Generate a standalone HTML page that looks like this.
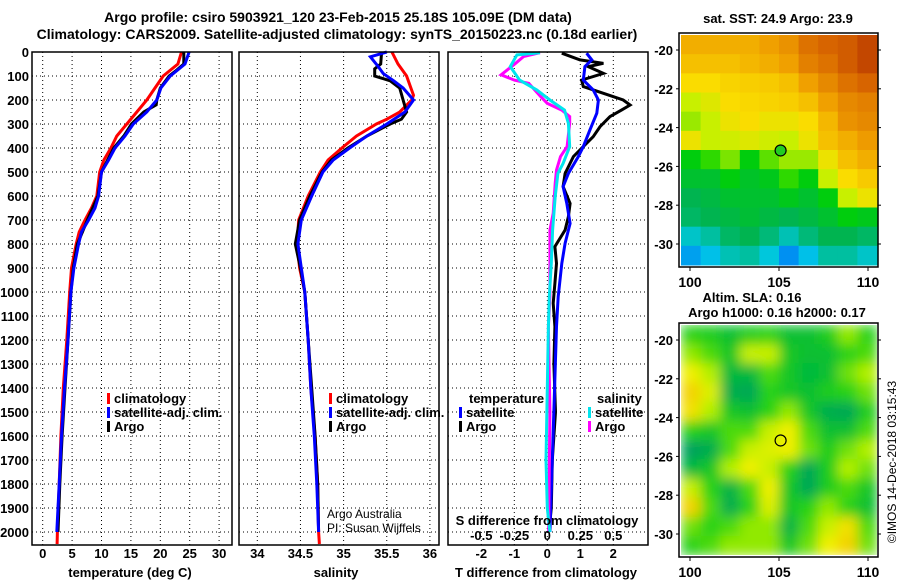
<!DOCTYPE html>
<html><head><meta charset="utf-8"><style>
body{margin:0;background:#fff}
svg text{font-family:"Liberation Sans",sans-serif;font-weight:bold;font-size:13px;fill:#000}
</style></head><body>
<svg id="c" width="900" height="580" viewBox="0 0 900 580" xmlns="http://www.w3.org/2000/svg">
<defs>
<filter id="blur" filterUnits="userSpaceOnUse" x="681" y="325" width="196" height="230"><feGaussianBlur stdDeviation="6" edgeMode="duplicate"/></filter>
<clipPath id="clipSla"><rect x="681" y="325" width="196" height="230"/></clipPath>
</defs>
<text x="338" y="22" text-anchor="middle" style="font-size:14px">Argo profile: csiro 5903921_120 23-Feb-2015 25.18S 105.09E (DM data)</text>
<text x="337" y="39" text-anchor="middle" style="font-size:14px">Climatology: CARS2009. Satellite-adjusted climatology: synTS_20150223.nc (0.18d earlier)</text>
<g id="g"></g>
</svg>
<script>
// ---------- data ----------
const depthTicks=[0,100,200,300,400,500,600,700,800,900,1000,1100,1200,1300,1400,1500,1600,1700,1800,1900,2000];
const tTicks=[0,5,10,15,20,25,30];
const sTicks=[34,34.5,35,35.5,36];
const dTTicks=[-2,-1,0,1,2];
const dSTicks=[-0.5,-0.25,0,0.25,0.5];
const dSTickLabels=["-0.5","-0.25","0","0.25","0.5"];
const tClimDepth=[0,50,100,150,200,250,300,350,400,450,500,600,650,700,750,800,900,1000,1200,1400,1600,1800,2000,2050];
const tClim=[23.6,23.0,20.5,19.1,17.7,16.0,14.3,12.6,11.6,10.4,9.7,9.2,8.3,7.2,6.2,5.7,4.9,4.6,4.1,3.5,3.1,2.8,2.5,2.45];
const tSatDepth=[0,50,100,150,200,250,300,350,400,450,500,600,650,700,750,800,900,1000,1200,1400,1600,1800,2000];
const tSat=[24.9,24.2,21.7,20.1,19.4,17.7,15.4,14.0,12.3,11.2,10.0,9.5,8.9,7.8,6.6,6.1,5.3,4.8,4.3,3.7,3.2,2.8,2.4];
const tArgoDepth=[0,50,75,100,150,200,220,250,300,350,400,500,600,700,800,900,1000,1200,1400,1600,1800,2000];
const tArgo=[24.0,24.0,22.8,21.5,20.0,19.4,19.3,17.2,15.1,13.8,12.1,10.0,9.4,7.6,5.9,5.2,4.8,4.3,3.8,3.3,2.9,2.6];
const sClimDepth=[0,50,100,150,180,200,250,280,300,350,400,450,500,600,700,800,900,1000,1200,1400,1600,1800,2000,2050];
const sClim=[35.56,35.63,35.73,35.78,35.81,35.79,35.65,35.50,35.38,35.15,34.98,34.82,34.73,34.59,34.48,34.46,34.49,34.55,34.59,34.62,34.67,34.70,34.71,34.72];
const sSatDepth=[0,20,60,90,120,150,200,250,300,350,400,450,500,600,700,800,900,1000,1200,1400,1600,1800,2000];
const sSat=[35.50,35.31,35.40,35.46,35.58,35.69,35.81,35.71,35.50,35.27,35.07,34.88,34.76,34.63,34.51,34.47,34.51,34.55,34.59,34.62,34.66,34.69,34.71];
const sArgoDepth=[0,50,70,100,120,150,200,250,280,300,350,400,450,500,600,700,800,900,1000,1200,1400,1600,1800,2000];
const sArgo=[35.44,35.43,35.36,35.36,35.54,35.65,35.69,35.73,35.67,35.54,35.27,35.05,34.86,34.75,34.61,34.49,34.44,34.50,34.55,34.59,34.63,34.67,34.70,34.71];
const dTArgoDepth=[5,33,47,61,89,117,144,172,200,221,242,269,311,353,394,436,506,561,631,686,742,811,881,964,1047,1144,1300,1500,1700,1900,2000];
const dTArgo=[0.44,0.99,1.70,1.24,1.70,1.04,1.09,1.70,2.30,2.51,2.25,1.90,1.60,1.39,1.09,0.79,0.54,0.48,0.69,0.64,0.54,0.23,0.28,0.23,0.18,0.23,0.20,0.25,0.15,0.12,0.05];
const dTSatDepth=[5,33,61,117,158,200,255,325,394,436,506,561,631,714,797,881,1019,1144,1400,1700,2000];
const dTSat=[1.19,1.35,1.14,1.09,1.39,1.55,1.50,1.29,1.09,0.94,0.64,0.48,0.59,0.69,0.54,0.44,0.33,0.28,0.22,0.15,0.08];
const dSSatDepth=[3,12,61,117,158,200,242,297,394,464,506,603,742,881,1019,1144,1400,1700,1900,2000];
const dSSat=[-0.055,-0.23,-0.28,-0.21,-0.08,0.02,0.13,0.16,0.17,0.12,0.08,0.06,0.04,0.03,0.015,0.008,0.0,-0.01,0.0,0.02];
const dSArgoDepth=[3,19,47,95,117,131,186,214,242,269,297,394,436,492,547,672,742,881,1019,1144,1500,2000];
const dSArgo=[-0.055,-0.18,-0.24,-0.35,-0.25,-0.14,-0.05,0.0,0.11,0.17,0.17,0.15,0.10,0.07,0.06,0.045,0.02,0.02,0.02,0.008,0.02,0.01];
const lonTicks=[100,105,110];
const latTicks=[-20,-22,-24,-26,-28,-30];
const argoLon=105.09, argoLat=-25.18;
const sstGrid=[
[.72,.72,.72,.72,.75,.78,.85,.88,.9,.95],
[.68,.68,.68,.7,.72,.75,.82,.85,.9,.95],
[.62,.62,.64,.65,.66,.68,.75,.8,.85,.88],
[.55,.58,.62,.63,.64,.65,.68,.75,.8,.82],
[.52,.55,.6,.62,.6,.6,.62,.7,.78,.8],
[.6,.55,.56,.58,.56,.55,.6,.68,.72,.76],
[.4,.45,.5,.4,.48,.52,.52,.6,.68,.72],
[.35,.35,.4,.36,.38,.45,.4,.55,.62,.66],
[.3,.32,.35,.35,.35,.38,.35,.4,.55,.6],
[.28,.3,.32,.34,.32,.3,.32,.35,.4,.38],
[.18,.22,.28,.3,.26,.2,.26,.3,.3,.28],
[.1,.14,.2,.22,.16,.08,.14,.22,.22,.18]];
const slaGrid=[
[.5,.45,.35,.45,.5,.35,.35,.45,.65,.5],
[.65,.55,.4,.75,.75,.4,.35,.35,.5,.55],
[.85,.7,.3,.3,.55,.4,.3,.35,.6,.7],
[.95,.8,.2,.15,.5,.4,.35,.45,.5,.6],
[.9,.7,.4,.35,.5,.65,.4,.2,.15,.45],
[.5,.4,.55,.55,.75,.85,.55,.35,.35,.55],
[.1,.2,.55,.75,.8,.85,.6,.45,.6,.7],
[.3,.4,.7,.85,.75,.5,.15,.45,.7,.6],
[.75,.5,.25,.55,.85,.4,.15,.45,.55,.4],
[.95,.55,.2,.5,.8,.4,.5,.65,.5,.35],
[.6,.5,.55,.65,.65,.25,.55,.75,.9,.55],
[.5,.55,.65,.65,.65,.4,.6,.85,.95,.6]];

// ---------- helpers ----------
const NS="http://www.w3.org/2000/svg";
const G=document.getElementById('g');
function el(tag,attrs,parent){const e=document.createElementNS(NS,tag);for(const k in attrs)e.setAttribute(k,attrs[k]);(parent||G).appendChild(e);return e;}
const TOP=52,BOT=545;
const yD=d=>TOP+d*0.24;
const xT=t=>42.7+t*5.88;
const xS=s=>257.3+(s-34)*86.3;
const xDT=v=>547.3+v*33;
const xDS=v=>547.3+v*132;
const panels=[{x0:32,x1:232},{x0:239,x1:439},{x0:448,x1:648}];

function grid(p,xs){
  xs.forEach(x=>{const l=el('line',{x1:x,x2:x,y1:TOP,y2:BOT,stroke:'#000','stroke-width':1,'stroke-dasharray':'1,3'});
  
  });
  depthTicks.forEach(d=>{const l=el('line',{x1:p.x0,x2:p.x1,y1:yD(d),y2:yD(d),stroke:'#000','stroke-width':1,'stroke-dasharray':'1,3'});
  
  });
}
function frame(p,name){const r=el('rect',{x:p.x0,y:TOP,width:p.x1-p.x0,height:BOT-TOP,fill:'none',stroke:'#000','stroke-width':1.5});
  
  }
function line(depths,vals,fx,color,name){
  const pts=depths.map((d,i)=>fx(vals[i]).toFixed(1)+','+yD(d).toFixed(1)).join(' ');
  const l=el('polyline',{points:pts,fill:'none',stroke:color,'stroke-width':3,'stroke-linejoin':'miter'});
  
  
}
function txt(x,y,s,opts,name){const t=el('text',Object.assign({x:x,y:y},opts||{}));t.textContent=s;
  
  return t;}

// panel 1 temperature
grid(panels[0],tTicks.map(xT));
line(tClimDepth,tClim,xT,'#ff0000','temp-climatology-line');
line(tArgoDepth,tArgo,xT,'#000000','temp-argo-line');
line(tSatDepth,tSat,xT,'#0000ff','temp-satellite-line');
frame(panels[0],'temperature-plot-frame');
depthTicks.forEach(d=>txt(29,yD(d)+5,String(d),{'text-anchor':'end'},'depth-tick-label'));
tTicks.forEach(t=>txt(xT(t),558,String(t),{'text-anchor':'middle'},'temp-tick-label'));
txt(130,577,'temperature (deg C)',{'text-anchor':'middle'},'temp-axis-title');

// panel 2 salinity
grid(panels[1],sTicks.map(xS));
line(sClimDepth,sClim,xS,'#ff0000','sal-climatology-line');
line(sArgoDepth,sArgo,xS,'#000000','sal-argo-line');
line(sSatDepth,sSat,xS,'#0000ff','sal-satellite-line');
frame(panels[1],'salinity-plot-frame');
sTicks.forEach(s=>txt(xS(s),558,String(s),{'text-anchor':'middle'},'sal-tick-label'));
txt(336,577,'salinity',{'text-anchor':'middle'},'sal-axis-title');
txt(327,518,'Argo Australia',{style:'font-weight:normal;font-size:12px'},'credit-argo-australia');
txt(327,532,'PI: Susan Wijffels',{style:'font-weight:normal;font-size:12px'},'credit-pi');

// legends
function legend(x,y,color,label,name){
  const r=el('rect',{x:x,y:y-10,width:3,height:11,fill:color});
  
  
  txt(x+7,y,label,{},name);
}
[[107,panels[0]],[329,panels[1]]].forEach(([lx])=>{
  legend(lx,403,'#ff0000','climatology','legend-climatology');
  legend(lx,417,'#0000ff','satellite-adj. clim.','legend-satellite-adj');
  legend(lx,431,'#000000','Argo','legend-argo');
});

// panel 3 differences
grid(panels[2],dTTicks.map(xDT));
line(dTArgoDepth,dTArgo,xDT,'#000000','tdiff-argo-line');
line(dTSatDepth,dTSat,xDT,'#0000ff','tdiff-satellite-line');
line(dSArgoDepth,dSArgo,xDS,'#ff00ff','sdiff-argo-line');
line(dSSatDepth,dSSat,xDS,'#00e5ee','sdiff-satellite-line');
frame(panels[2],'difference-plot-frame');
txt(469,403,'temperature',{},'legend-temperature-header');
legend(459,417,'#0000ff','satellite','legend-t-satellite');
legend(459,431,'#000000','Argo','legend-t-argo');
txt(597,403,'salinity',{},'legend-salinity-header');
legend(588,417,'#00e5ee','satellite','legend-s-satellite');
legend(588,431,'#ff00ff','Argo','legend-s-argo');
txt(547,525,'S difference from climatology',{'text-anchor':'middle'},'sdiff-axis-title');
dSTicks.forEach((v,i)=>txt(xDS(v),540,dSTickLabels[i],{'text-anchor':'middle'},'sdiff-tick-label'));
dTTicks.forEach(v=>txt(xDT(v),558,String(v),{'text-anchor':'middle'},'tdiff-tick-label'));
txt(546,577,'T difference from climatology',{'text-anchor':'middle'},'tdiff-axis-title');

// ---------- maps ----------
function cmap(stops,v){
  for(let i=1;i<stops.length;i++){if(v<=stops[i][0]){const a=stops[i-1],b=stops[i];const f=(v-a[0])/(b[0]-a[0]);
    return 'rgb('+[1,2,3].map(k=>Math.round(a[k]+(b[k]-a[k])*f)).join(',')+')';}}
  const s=stops[stops.length-1];return 'rgb('+s[1]+','+s[2]+','+s[3]+')';
}
const sstStops=[[0,0,80,255],[0.15,0,200,230],[0.3,0,180,80],[0.42,0,210,0],[0.55,200,240,0],[0.62,250,220,0],[0.75,240,160,0],[0.88,215,100,0],[1,180,50,0]];
const slaStops=[[0,0,150,110],[0.3,0,185,60],[0.5,40,210,20],[0.7,180,240,0],[0.85,240,240,0],[1,245,195,0]];
const lonX=lon=>690+(lon-100)*17.8;
function drawMap(grid,stops,yOff,name,blur,fillMarker){
  const latY=lat=>50+yOff+(-20-lat)*19.4;
  const ix=681,iy=35+yOff,iw=196,ih=230;
  const g=el('g',blur?{'clip-path':'url(#clipSla)'}:{});
  
  
  const inner=el('g',blur?{filter:'url(#blur)'}:{},g);
  const rows=grid.length,cols=grid[0].length,cw=iw/cols,ch=ih/rows;
  grid.forEach((row,r)=>row.forEach((v,c)=>{
    const cell=el('rect',{x:(ix+c*cw).toFixed(2),y:(iy+r*ch).toFixed(2),width:(cw+0.5).toFixed(2),height:(ch+0.5).toFixed(2),fill:cmap(stops,v)},inner);
    
    
  }));
  const fr=el('rect',{x:679,y:33+yOff,width:199,height:234,fill:'none',stroke:'#000','stroke-width':1.5});
  
  
  latTicks.forEach(l=>{
    txt(673,latY(l)+5,String(l),{'text-anchor':'end'},'lat-tick-label');
    const t1=el('line',{x1:676,x2:679,y1:latY(l),y2:latY(l),stroke:'#000'});
    
    
    const t2=el('line',{x1:878,x2:881,y1:latY(l),y2:latY(l),stroke:'#000'});
    
    
  });
  lonTicks.forEach(l=>{
    txt(lonX(l),287+yOff,String(l),{'text-anchor':'middle',style:'font-size:14px'},'lon-tick-label');
    const t=el('line',{x1:lonX(l),x2:lonX(l),y1:267+yOff,y2:271+yOff,stroke:'#000'});
    
    
  });
  const m=el('circle',{cx:lonX(argoLon),cy:latY(argoLat),r:5.5,fill:fillMarker,stroke:'#000','stroke-width':1.2});
  
  
}
drawMap(sstGrid,sstStops,0,'sst-map',false,'#22cc22');
drawMap(slaGrid,slaStops,290,'sla-map',true,'none');
txt(778,23,'sat. SST: 24.9 Argo: 23.9',{'text-anchor':'middle'},'sst-map-title');
txt(752,302,'Altim. SLA: 0.16',{'text-anchor':'middle'},'sla-map-title');
txt(777,317,'Argo h1000: 0.16 h2000: 0.17',{'text-anchor':'middle'},'argo-height-title');
txt(0,0,'©IMOS 14-Dec-2018 03:15:43',{'text-anchor':'middle',transform:'translate(896,462) rotate(-90)',style:'font-weight:normal;font-size:12px'},'imos-timestamp');
</script>
</body></html>
